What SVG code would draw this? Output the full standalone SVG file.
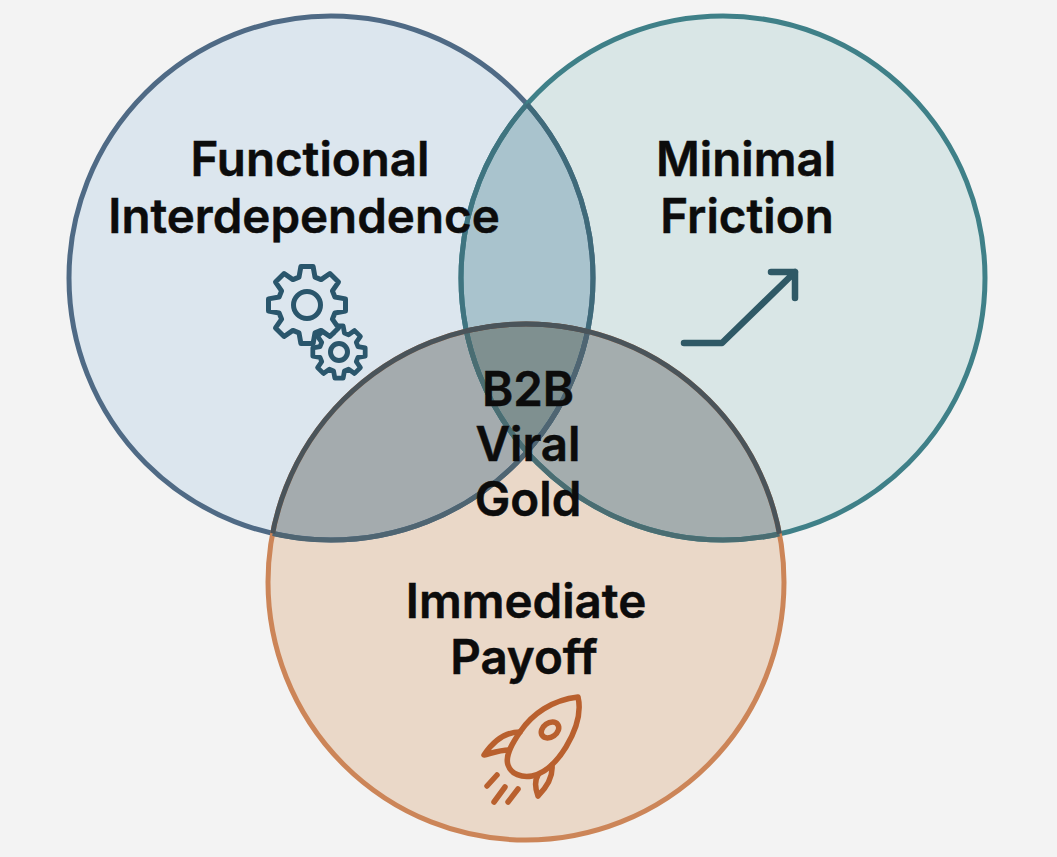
<svg xmlns="http://www.w3.org/2000/svg" xmlns:xlink="http://www.w3.org/1999/xlink" width="1057" height="857" viewBox="0 0 1057 857">
<style>
.lbl{font-family:"Inter","Liberation Sans",sans-serif;font-weight:600;font-size:47.5px;fill:#0c0c0c;text-anchor:middle;stroke:#0c0c0c;stroke-width:.5}
.ring{fill:none;stroke-width:5}
.gear{stroke:#2a566c;stroke-width:5;stroke-linejoin:round;fill:#dce6ee}
.rocket{fill:none;stroke:#b9602e;stroke-width:5.5;stroke-linejoin:round;stroke-linecap:round}
.arrow{fill:none;stroke:#2f5966;stroke-width:6.5;stroke-linejoin:round;stroke-linecap:round}
</style>
<defs>
<clipPath id="cL"><circle cx="331" cy="278" r="262"/></clipPath>
<clipPath id="cR"><circle cx="723" cy="278" r="262"/></clipPath>
<clipPath id="cB"><circle cx="526" cy="582" r="258"/></clipPath>
<path id="gearShape" d="M-8-27.9L-6.1-38.5L6.1-38.5L8-27.9L14.1-25.4L22.9-31.5L31.5-22.9L25.4-14.1L27.9-8L38.5-6.1L38.5 6.1L27.9 8L25.4 14.1L31.5 22.9L22.9 31.5L14.1 25.4L8 27.9L6.1 38.5L-6.1 38.5L-8 27.9L-14.1 25.4L-22.9 31.5L-31.5 22.9L-25.4 14.1L-27.9 8L-38.5 6.1L-38.5-6.1L-27.9-8L-25.4-14.1L-31.5-22.9L-22.9-31.5L-14.1-25.4Z"/>
</defs>
<rect width="1057" height="857" fill="#f3f3f3"/>
<g id="fills">
<circle cx="331" cy="278" r="262" fill="#dce6ee"/>
<circle cx="723" cy="278" r="262" fill="#d9e6e6"/>
<circle cx="526" cy="582" r="258" fill="#ead8c8"/>
<g clip-path="url(#cL)"><circle cx="723" cy="278" r="262" fill="#a9c3cd"/></g>
<g clip-path="url(#cL)"><circle cx="526" cy="582" r="258" fill="#a4abae"/></g>
<g clip-path="url(#cR)"><circle cx="526" cy="582" r="258" fill="#a4adae"/></g>
<g clip-path="url(#cL)"><g clip-path="url(#cR)"><circle cx="526" cy="582" r="258" fill="#7f9090"/></g></g>
</g>
<g id="connectors">
<circle class="ring" cx="331" cy="278" r="262" stroke="#4f6a85"/>
<circle class="ring" cx="723" cy="278" r="262" stroke="#3f8088"/>
<circle class="ring" cx="526" cy="582" r="258" stroke="#cc8558"/>
<g clip-path="url(#cL)"><circle class="ring" cx="723" cy="278" r="262" stroke="#3f7480"/></g>
<g clip-path="url(#cR)"><circle class="ring" cx="331" cy="278" r="262" stroke="#3f6a7a"/></g>
<g clip-path="url(#cB)"><circle class="ring" cx="331" cy="278" r="262" stroke="#4f6572"/><circle class="ring" cx="723" cy="278" r="262" stroke="#4a6d72"/></g>
<g clip-path="url(#cL)"><circle class="ring" cx="526" cy="582" r="258" stroke="#4a545a"/></g>
<g clip-path="url(#cR)"><circle class="ring" cx="526" cy="582" r="258" stroke="#4a545a"/></g>
</g>
<g id="node-functional">
<text class="lbl" x="310" y="176">Functional</text>
<text class="lbl" x="304" y="233">Interdependence</text>
<g id="icon-gears">
<use href="#gearShape" class="gear" transform="translate(339 352) scale(.68)" style="stroke-width:7"/>
<circle class="gear" cx="339" cy="352" r="8.5"/>
<use href="#gearShape" class="gear" transform="translate(307 305)"/>
<circle class="gear" cx="307" cy="305" r="13.5"/>
</g>
</g>
<g id="node-friction">
<text class="lbl" x="746" y="176">Minimal</text>
<text class="lbl" x="747" y="233">Friction</text>
<path class="arrow" d="M684 343H722L795 272M771 272H795V298"/>
</g>
<g id="node-payoff">
<text class="lbl" x="526" y="618">Immediate</text>
<text class="lbl" x="524" y="674">Payoff</text>
<g id="icon-rocket" class="rocket">
<path d="M578 697C552 700 532 714 520 732C511 745 505 756 508 765C511 774 522 778 532 776C546 773 558 760 566 747C575 732 582 714 578 697Z"/>
<ellipse cx="550" cy="730" rx="9.5" ry="7" transform="rotate(-35 550 730)"/>
<path d="M520 732C505 732 494 740 484 755C492 753 500 750 509 750"/>
<path d="M552 765C553 775 548 786 538 796C535 788 535 780 538 775"/>
<path d="M487 786L497 775M494 802L505 787M508 802L518 789"/>
</g>
</g>
<g id="node-center">
<text class="lbl" x="528" y="406">B2B</text>
<text class="lbl" x="528" y="461">Viral</text>
<text class="lbl" x="528" y="516">Gold</text>
</g>
</svg>
